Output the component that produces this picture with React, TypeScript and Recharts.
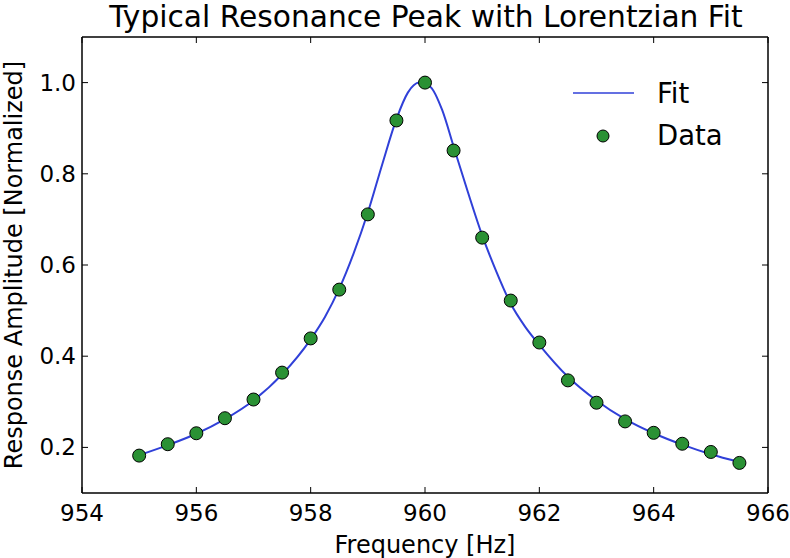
import React from "react";
import { ComposedChart, Line, Scatter, XAxis, YAxis } from "recharts";

const dataFreq = [955, 955.5, 956, 956.5, 957, 957.5, 958, 958.5, 959, 959.5, 960, 960.5, 961, 961.5, 962, 962.5, 963, 963.5, 964, 964.5, 965, 965.5];
const dataAmp = [0.182, 0.207, 0.231, 0.264, 0.305, 0.364, 0.439, 0.546, 0.711, 0.917, 1.0, 0.851, 0.66, 0.522, 0.43, 0.347, 0.298, 0.257, 0.232, 0.208, 0.19, 0.166];

const fitFreq = [955, 955.5, 956, 956.5, 957, 957.5, 958, 958.25, 958.5, 958.75, 959, 959.25, 959.5, 959.7, 959.9, 960.1, 960.3, 960.5, 960.75, 961, 961.25, 961.5, 961.75, 962, 962.5, 963, 963.5, 964, 964.5, 965, 965.5];
const fitAmp = [0.183, 0.205, 0.23, 0.262, 0.303, 0.36, 0.437, 0.486, 0.548, 0.625, 0.715, 0.82, 0.92, 0.978, 1.0, 0.99, 0.94, 0.86, 0.76, 0.665, 0.585, 0.515, 0.465, 0.425, 0.355, 0.303, 0.262, 0.231, 0.206, 0.185, 0.168];

const xTicks = [954, 956, 958, 960, 962, 964, 966];
const yTicks = [0.2, 0.4, 0.6, 0.8, 1.0];

const scatterData = dataFreq.map((x, i) => ({ x, y: dataAmp[i] }));
const lineData = fitFreq.map((x, i) => ({ x, y: fitAmp[i] }));

const FONT = "DejaVu Sans, sans-serif";
const TL = 6;
const FIT_COLOR = "#3040d8";
const DOT_COLOR = "#2a9134";

const BottomTick = (p: any) => (
  <g>
    <line x1={p.x} y1={p.y} x2={p.x} y2={p.y - TL} stroke="#000" strokeWidth={1} />
    <text x={p.x} y={p.y + 28} textAnchor="middle" fontSize={23} fontFamily={FONT} fill="#000">
      {p.payload.value}
    </text>
  </g>
);
const TopTick = (p: any) => (
  <line x1={p.x} y1={p.y} x2={p.x} y2={p.y + TL} stroke="#000" strokeWidth={1} />
);
const LeftTick = (p: any) => (
  <g>
    <line x1={p.x} y1={p.y} x2={p.x + TL} y2={p.y} stroke="#000" strokeWidth={1} />
    <text x={p.x - 6} y={p.y + 8} textAnchor="end" fontSize={23} fontFamily={FONT} fill="#000">
      {Number(p.payload.value).toFixed(1)}
    </text>
  </g>
);
const RightTick = (p: any) => (
  <line x1={p.x} y1={p.y} x2={p.x - TL} y2={p.y} stroke="#000" strokeWidth={1} />
);

const XLabel = (p: any) => {
  const vb = p.viewBox || {};
  return (
    <text x={vb.x + vb.width / 2} y={553} textAnchor="middle" fontSize={24} fontFamily={FONT} fill="#000">
      Frequency [Hz]
    </text>
  );
};
const YLabel = (p: any) => {
  const vb = p.viewBox || {};
  const cy = vb.y + vb.height / 2;
  return (
    <text x={22} y={cy} transform={`rotate(-90, 22, ${cy})`} textAnchor="middle" fontSize={24} fontFamily={FONT} fill="#000">
      Response Amplitude [Normalized]
    </text>
  );
};

export default function App() {
  return (
    <div style={{ position: "absolute", left: 0, top: 0, width: 790, height: 558, background: "#fff", overflow: "hidden" }}>
      <div style={{ position: "absolute", left: 0, top: 0, width: 852, textAlign: "center", fontFamily: FONT, fontSize: 29.7, lineHeight: "34px", color: "#000" }}>
        Typical Resonance Peak with Lorentzian Fit
      </div>
      <ComposedChart width={790} height={558} margin={{ top: 36, right: 21, bottom: 0, left: 0 }} style={{ position: "absolute", left: 0, top: 0 }}>
        <XAxis
          xAxisId="b"
          type="number"
          dataKey="x"
          domain={[954, 966]}
          ticks={xTicks}
          allowDataOverflow
          height={65}
          tickSize={0}
          tickMargin={0}
          tickLine={false}
          tick={<BottomTick />}
          axisLine={{ stroke: "#000", strokeWidth: 1.5 }}
          label={<XLabel />}
        />
        <XAxis
          xAxisId="t"
          orientation="top"
          type="number"
          dataKey="x"
          domain={[954, 966]}
          ticks={xTicks}
          allowDataOverflow
          height={1}
          tickSize={0}
          tickMargin={0}
          tickLine={false}
          tick={<TopTick />}
          axisLine={{ stroke: "#000", strokeWidth: 1.5 }}
        />
        <YAxis
          yAxisId="l"
          type="number"
          dataKey="y"
          domain={[0.1, 1.1]}
          ticks={yTicks}
          allowDataOverflow
          width={82}
          tickSize={0}
          tickMargin={0}
          tickLine={false}
          tick={<LeftTick />}
          axisLine={{ stroke: "#000", strokeWidth: 1.5 }}
          label={<YLabel />}
        />
        <YAxis
          yAxisId="r"
          orientation="right"
          type="number"
          dataKey="y"
          domain={[0.1, 1.1]}
          ticks={yTicks}
          allowDataOverflow
          width={1}
          tickSize={0}
          tickMargin={0}
          tickLine={false}
          tick={<RightTick />}
          axisLine={{ stroke: "#000", strokeWidth: 1.5 }}
        />
        <Line
          xAxisId="t"
          yAxisId="r"
          data={lineData}
          dataKey="y"
          type="monotone"
          stroke="none"
          dot={false}
          legendType="none"
          isAnimationActive={false}
        />
        <Line
          xAxisId="b"
          yAxisId="l"
          data={lineData}
          dataKey="y"
          type="monotone"
          stroke={FIT_COLOR}
          strokeWidth={2}
          dot={false}
          isAnimationActive={false}
        />
        <Scatter
          xAxisId="b"
          yAxisId="l"
          data={scatterData}
          dataKey="y"
          fill={DOT_COLOR}
          stroke="#000"
          strokeWidth={1}
          shape={(p: any) => <circle cx={p.cx} cy={p.cy} r={6.5} fill={DOT_COLOR} stroke="#000" strokeWidth={1} />}
          isAnimationActive={false}
        />
      </ComposedChart>
      <svg width={240} height={90} style={{ position: "absolute", left: 540, top: 74 }}>
        <line x1={33} y1={19} x2={94} y2={19} stroke={FIT_COLOR} strokeWidth={1.5} />
        <text x={117} y={29} fontSize={27.5} fontFamily={FONT} fill="#000">Fit</text>
        <circle cx={63} cy={62} r={6} fill={DOT_COLOR} stroke="#000" strokeWidth={1} />
        <text x={117} y={71} fontSize={27.5} fontFamily={FONT} fill="#000">Data</text>
      </svg>
    </div>
  );
}
